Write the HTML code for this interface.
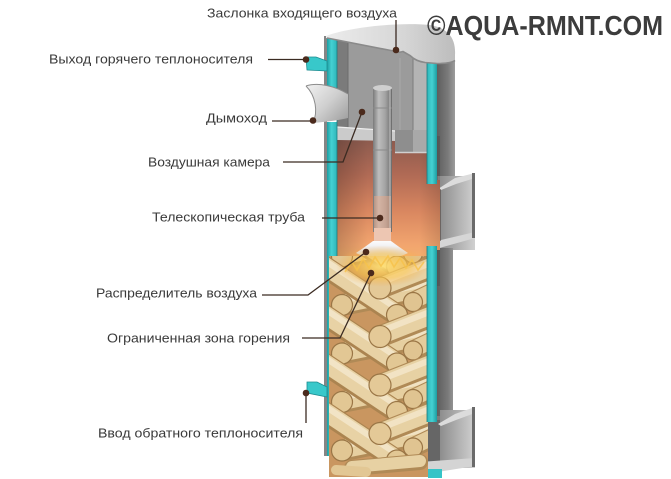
<!DOCTYPE html>
<html><head><meta charset="utf-8">
<style>
html,body{margin:0;padding:0;background:#fff;width:671px;height:479px;overflow:hidden;}
svg{display:block;overflow:hidden;}
text{font-family:"Liberation Sans",sans-serif;fill:#3a3a3a;}
</style></head><body>
<svg width="671" height="479" viewBox="0 0 671 479" xmlns="http://www.w3.org/2000/svg">
<defs>
 <linearGradient id="fire" gradientUnits="userSpaceOnUse" x1="0" y1="138" x2="0" y2="285">
  <stop offset="0" stop-color="#8a5a4e"/>
  <stop offset="0.25" stop-color="#b06a55"/>
  <stop offset="0.5" stop-color="#d98760"/>
  <stop offset="0.72" stop-color="#f1a46e"/>
  <stop offset="0.88" stop-color="#f7b66c"/>
  <stop offset="1" stop-color="#f6c458"/>
 </linearGradient>
 <linearGradient id="fireSide" gradientUnits="userSpaceOnUse" x1="337" y1="0" x2="440" y2="0">
  <stop offset="0" stop-color="#000" stop-opacity="0.18"/>
  <stop offset="0.3" stop-color="#000" stop-opacity="0"/>
  <stop offset="0.8" stop-color="#000" stop-opacity="0"/>
  <stop offset="1" stop-color="#000" stop-opacity="0.12"/>
 </linearGradient>
 <linearGradient id="tube" gradientUnits="userSpaceOnUse" x1="373" y1="0" x2="392" y2="0">
  <stop offset="0" stop-color="#7a7a7a"/>
  <stop offset="0.3" stop-color="#bdbdbd"/>
  <stop offset="0.65" stop-color="#a2a2a2"/>
  <stop offset="1" stop-color="#6c6c6c"/>
 </linearGradient>
 <linearGradient id="cap" gradientUnits="userSpaceOnUse" x1="326" y1="0" x2="456" y2="0">
  <stop offset="0" stop-color="#ececec"/>
  <stop offset="0.6" stop-color="#d6d6d6"/>
  <stop offset="1" stop-color="#bcbcbc"/>
 </linearGradient>
 <linearGradient id="rw" gradientUnits="userSpaceOnUse" x1="437" y1="0" x2="455" y2="0">
  <stop offset="0" stop-color="#5e5e5e"/>
  <stop offset="0.6" stop-color="#7a7a7a"/>
  <stop offset="1" stop-color="#9c9c9c"/>
 </linearGradient>
 <linearGradient id="teal" gradientUnits="userSpaceOnUse" x1="327" y1="0" x2="337" y2="0">
  <stop offset="0" stop-color="#1d9ea2"/>
  <stop offset="0.45" stop-color="#45d1d3"/>
  <stop offset="1" stop-color="#2db6b9"/>
 </linearGradient>
 <linearGradient id="tealR" gradientUnits="userSpaceOnUse" x1="427" y1="0" x2="437" y2="0">
  <stop offset="0" stop-color="#2db6b9"/>
  <stop offset="0.5" stop-color="#45d1d3"/>
  <stop offset="1" stop-color="#1d9ea2"/>
 </linearGradient>
 <linearGradient id="panel" gradientUnits="userSpaceOnUse" x1="440" y1="0" x2="474" y2="0">
  <stop offset="0" stop-color="#8d8d8d"/>
  <stop offset="1" stop-color="#cfcfcf"/>
 </linearGradient>
 <linearGradient id="chim" gradientUnits="userSpaceOnUse" x1="306" y1="84" x2="348" y2="124">
  <stop offset="0" stop-color="#f2f2f2"/>
  <stop offset="0.5" stop-color="#cfcfcf"/>
  <stop offset="1" stop-color="#9a9a9a"/>
 </linearGradient>
 <linearGradient id="dist" gradientUnits="userSpaceOnUse" x1="0" y1="241" x2="0" y2="262">
  <stop offset="0" stop-color="#fbfbfb"/>
  <stop offset="1" stop-color="#d2d4dc"/>
 </linearGradient>
 <radialGradient id="glow" gradientUnits="userSpaceOnUse" cx="382" cy="266" r="46" gradientTransform="translate(382 266) scale(1 0.45) translate(-382 -266)">
  <stop offset="0" stop-color="#ffe27a" stop-opacity="0.95"/>
  <stop offset="0.6" stop-color="#f9c24a" stop-opacity="0.6"/>
  <stop offset="1" stop-color="#f6a84a" stop-opacity="0"/>
 </radialGradient>
 <clipPath id="logclip"><rect x="329" y="256" width="99" height="221"/></clipPath>
 <g id="logC"><line x1="342" y1="305" x2="428" y2="288" stroke="#b08a56" stroke-width="22" stroke-linecap="round"/><line x1="342" y1="304" x2="428" y2="287" stroke="#e6cfa0" stroke-width="18" stroke-linecap="round"/><line x1="342" y1="300" x2="428" y2="283" stroke="#f1e2c2" stroke-width="7" stroke-linecap="round"/><circle cx="342" cy="305" r="10.5" fill="#e2c794" stroke="#9a7646" stroke-width="1.2"/></g>
 <g id="logB"><line x1="413" y1="302" x2="434" y2="292" stroke="#b08a56" stroke-width="20" stroke-linecap="round"/><line x1="413" y1="301" x2="434" y2="291" stroke="#e4cc9c" stroke-width="16" stroke-linecap="round"/><circle cx="413" cy="302" r="9.5" fill="#e0c491" stroke="#9a7646" stroke-width="1.2"/></g>
 <g id="logD"><line x1="322" y1="265" x2="397" y2="315" stroke="#ab8450" stroke-width="22" stroke-linecap="round"/><line x1="322" y1="264" x2="397" y2="314" stroke="#e8d2a5" stroke-width="18" stroke-linecap="round"/><line x1="324" y1="260" x2="399" y2="310" stroke="#f2e4c6" stroke-width="6" stroke-linecap="round"/><circle cx="397" cy="315" r="10.5" fill="#e2c794" stroke="#9a7646" stroke-width="1.2"/></g>
 <g id="logA"><line x1="380" y1="288" x2="436" y2="266" stroke="#b08a56" stroke-width="22" stroke-linecap="round"/><line x1="380" y1="287" x2="436" y2="265" stroke="#e7d1a3" stroke-width="18" stroke-linecap="round"/><line x1="380" y1="283" x2="436" y2="261" stroke="#f2e3c4" stroke-width="6" stroke-linecap="round"/><circle cx="380" cy="288" r="11" fill="#e4c997" stroke="#9a7646" stroke-width="1.2"/></g>
 <g id="period"><use href="#logC"/><use href="#logB"/><use href="#logD"/><use href="#logA"/></g>
</defs>

<rect width="671" height="479" fill="#fff"/>

<!-- right outer wall upper -->
<rect x="436" y="52" width="19" height="128" fill="url(#rw)"/>
<path d="M436,176 L455,176 Q455,186 446,188 L436,188 Z" fill="#7a7a7a"/>
<!-- upper notch -->
<rect x="438" y="176" width="37" height="74" fill="url(#panel)"/>
<polygon points="438,189 455,178 475,173 475,178 456,184 441,190" fill="#dcdcdc"/>
<polygon points="428,248 441,240 475,232 475,238 443,247 430,251" fill="#d6d6d6"/>
<rect x="472" y="173" width="3" height="65" fill="#6a6a6a"/>
<line x1="440" y1="189" x2="440" y2="241" stroke="#4a3a34" stroke-width="1"/>
<!-- lower right wall -->
<rect x="436" y="248" width="17" height="172" fill="url(#rw)"/>
<path d="M436,416 L453,416 Q453,426 444,428 L436,428 Z" fill="#7a7a7a"/>
<!-- lower notch -->
<rect x="420" y="420" width="22" height="50" fill="#666"/>
<rect x="440" y="410" width="35" height="58" fill="url(#panel)"/>
<polygon points="438,424 455,414 475,407 475,413 456,420 441,426" fill="#dcdcdc"/>
<polygon points="405,470 420,462 475,458 475,466 425,474 405,476" fill="#d4d4d4"/>
<rect x="472" y="407" width="3" height="60" fill="#6a6a6a"/>
<rect x="428" y="469" width="14" height="9" fill="#36c4c7"/>

<!-- fire region -->
<rect x="337" y="136" width="90" height="150" fill="url(#fire)"/>
<rect x="427" y="180" width="13" height="70" fill="url(#fire)"/>
<rect x="337" y="136" width="103" height="150" fill="url(#fireSide)"/>

<!-- air chamber -->
<rect x="337" y="38" width="90" height="100" fill="#939393"/>
<rect x="337" y="38" width="11" height="100" fill="#7b7b7b"/>
<rect x="348" y="40" width="65" height="92" fill="#9b9b9b"/>
<rect x="413" y="55" width="14" height="98" fill="#b4b4b4"/>
<line x1="348" y1="40" x2="348" y2="130" stroke="#6e6e6e" stroke-width="1"/>
<line x1="413" y1="55" x2="413" y2="153" stroke="#7c7c7c" stroke-width="1"/>
<line x1="400" y1="58" x2="400" y2="152" stroke="#a8a8a8" stroke-width="1"/>
<polygon points="337,127 396,131 396,141 337,140" fill="#cbcbcb"/>
<line x1="337" y1="127" x2="396" y2="131" stroke="#efefef" stroke-width="1.2"/>
<rect x="395" y="130" width="32" height="23" fill="#8e8e8e"/>
<rect x="413" y="130" width="14" height="23" fill="#a9a9a9"/>
<line x1="395" y1="152.5" x2="427" y2="152.5" stroke="#d0d0d0" stroke-width="1.4"/>

<!-- telescopic tube -->
<rect x="373" y="88" width="19" height="144" fill="url(#tube)"/>
<rect x="374" y="196" width="17" height="36" fill="#f2a884" opacity="0.45"/>
<ellipse cx="382.5" cy="88" rx="9.5" ry="3" fill="#cfcfcf"/>
<line x1="373" y1="108" x2="392" y2="108" stroke="#8a8a8a" stroke-width="1"/>
<line x1="373" y1="150" x2="392" y2="150" stroke="#8a8a8a" stroke-width="1"/>
<line x1="390" y1="90" x2="390" y2="230" stroke="#d6d6d6" stroke-width="0.8"/>
<!-- distributor -->
<rect x="374" y="228" width="17" height="14" fill="#edc6b2"/>
<path d="M373,241 L391,241 Q399,247 408,253 Q382,266 356,253 Q365,247 373,241 Z" fill="url(#dist)"/>

<!-- left wall -->
<rect x="324" y="36" width="3" height="420" fill="#858585"/>
<rect x="327" y="37" width="10" height="51" fill="url(#teal)"/>
<rect x="327" y="122" width="10" height="334" fill="url(#teal)"/>
<line x1="337" y1="37" x2="337" y2="456" stroke="#1b7c80" stroke-width="0.8"/>

<!-- logs -->
<g clip-path="url(#logclip)">
 <rect x="329" y="256" width="99" height="221" fill="#c99660"/>
 <use href="#period" transform="translate(0,-48.5)"/>
 <use href="#period"/>
 <use href="#period" transform="translate(0,48.5)"/>
 <use href="#period" transform="translate(0,97)"/>
 <use href="#period" transform="translate(0,145.5)"/>
 <line x1="352" y1="468" x2="420" y2="462" stroke="#b08a56" stroke-width="16" stroke-linecap="round"/>
 <line x1="352" y1="467" x2="420" y2="461" stroke="#e7d1a3" stroke-width="12" stroke-linecap="round"/>
 <line x1="336" y1="470" x2="366" y2="472" stroke="#e2c794" stroke-width="10" stroke-linecap="round"/>
</g>
<!-- flame glow -->
<ellipse cx="382" cy="266" rx="48" ry="22" fill="url(#glow)"/>
<polyline points="345,272 352,262 357,270 363,259 369,268 375,257 381,266 388,256 394,267 400,258 406,268 412,260 418,270 424,262" fill="none" stroke="#f6c24a" stroke-width="1.6" opacity="0.8"/>

<!-- right teal walls -->
<rect x="427" y="62" width="10" height="122" fill="url(#tealR)"/>
<rect x="427" y="246" width="10" height="176" fill="url(#tealR)"/>
<line x1="427" y1="62" x2="427" y2="184" stroke="#1b7c80" stroke-width="0.8"/>
<line x1="427" y1="246" x2="427" y2="422" stroke="#1b7c80" stroke-width="0.8"/>

<!-- cap -->
<path d="M326,36 C350,27 400,22 430,25 C448,28 456,38 455,55 L455,60 C452,62 445,63 437,63 L425,62 C418,61 413,58 410,55 L403,51 C400,52 398,52 396,51 L337,40 L326,38 Z" fill="url(#cap)"/>
<path d="M327,38 L396,51.5 C398,52.5 400,52.5 403,51.5 L410,55.5 C413,58.5 418,61.5 425,62.5 L437,63.5 C445,63.5 452,62.5 455,60.5" fill="none" stroke="#8a8a8a" stroke-width="1.6"/>

<!-- chimney -->
<path d="M306,86 C318,82 335,86 348,94 L348,118 C336,121 322,122 313,123 C318,112 316,96 306,86 Z" fill="url(#chim)"/>
<path d="M306,86 C318,82 335,86 348,94" fill="none" stroke="#8c8c8c" stroke-width="1"/>
<path d="M306,86 C316,96 318,112 313,123" fill="none" stroke="#8c8c8c" stroke-width="1"/>

<!-- outlet pipe -->
<polygon points="306,57 316,57 327,61 327,71 307,70" fill="#38c8ca" stroke="#1c8c90" stroke-width="0.8"/>
<!-- return pipe -->
<polygon points="307,382 317,382 327,387 327,397 307,393" fill="#38c8ca" stroke="#1c8c90" stroke-width="0.8"/>

<!-- leaders -->
<g stroke="#3b2b22" stroke-width="1.3" fill="none">
 <line x1="396" y1="20" x2="396" y2="50"/>
 <line x1="268" y1="59.5" x2="306" y2="59.5"/>
 <line x1="272" y1="121" x2="313" y2="121"/>
 <polyline points="283,162 343,162 362,112"/>
 <line x1="322" y1="218" x2="380" y2="218"/>
 <polyline points="262,295 308,295 366,252"/>
 <polyline points="302,338 340,338 371,273"/>
 <line x1="306" y1="393" x2="306" y2="423"/>
</g>
<g fill="#4b2a1c">
 <circle cx="396" cy="50" r="3.3"/>
 <circle cx="306" cy="59.5" r="3.3"/>
 <circle cx="313" cy="120.5" r="3.3"/>
 <circle cx="362" cy="112" r="3.3"/>
 <circle cx="380" cy="218" r="3.3"/>
 <circle cx="366" cy="252" r="3.3"/>
 <circle cx="371" cy="273" r="3.3"/>
 <circle cx="306" cy="393" r="3.3"/>
</g>

<!-- labels -->
<g font-size="13">
 <text x="207" y="17.5" textLength="190" lengthAdjust="spacingAndGlyphs">Заслонка входящего воздуха</text>
 <text x="49" y="63.5" textLength="204" lengthAdjust="spacingAndGlyphs">Выход горячего теплоносителя</text>
 <text x="206" y="122.5" textLength="61" lengthAdjust="spacingAndGlyphs">Дымоход</text>
 <text x="148" y="166.5" textLength="122" lengthAdjust="spacingAndGlyphs">Воздушная камера</text>
 <text x="152" y="221.5" textLength="153" lengthAdjust="spacingAndGlyphs">Телескопическая труба</text>
 <text x="96" y="297.5" textLength="161" lengthAdjust="spacingAndGlyphs">Распределитель воздуха</text>
 <text x="107" y="342.5" textLength="183" lengthAdjust="spacingAndGlyphs">Ограниченная зона горения</text>
 <text x="98" y="437.5" textLength="205" lengthAdjust="spacingAndGlyphs">Ввод обратного теплоносителя</text>
</g>
<text x="427" y="35" font-size="28" font-weight="bold" textLength="236" lengthAdjust="spacingAndGlyphs" style="fill:#3c3c3c">©AQUA-RMNT.COM</text>
</svg>
</body></html>
